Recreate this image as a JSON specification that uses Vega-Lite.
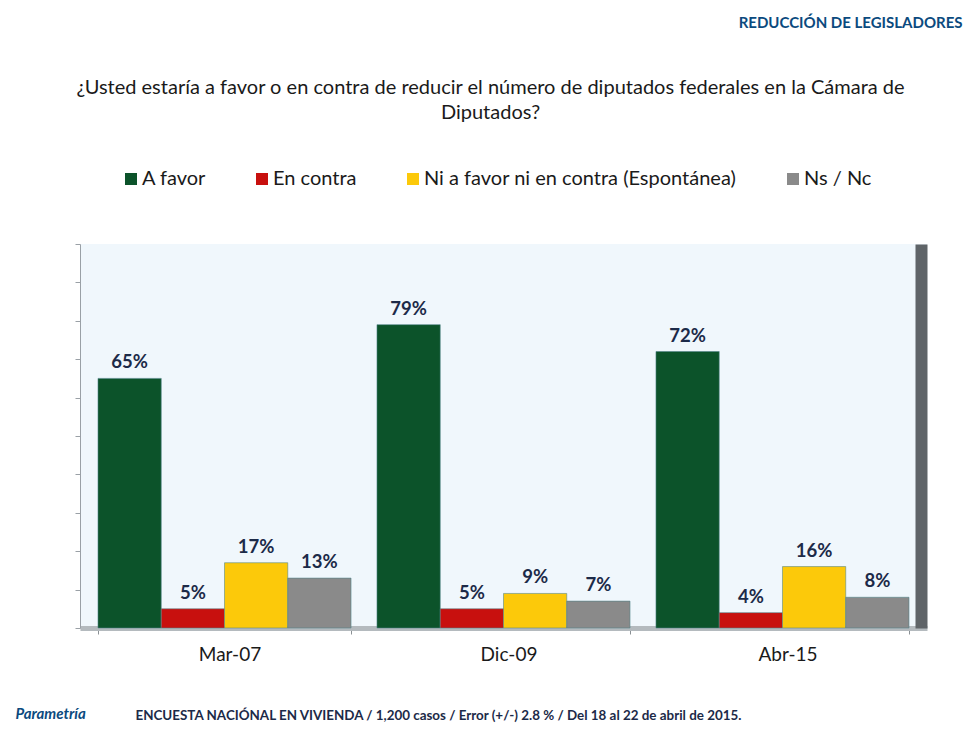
{
  "$schema": "https://vega.github.io/schema/vega-lite/v6.json",
  "autosize": {"type": "none"},
  "padding": {"left": 80, "top": 244, "right": 45, "bottom": 102},
  "width": 847,
  "height": 384,
  "background": "#ffffff",
  "title": {
    "text": ["¿Usted estaría a favor o en contra de reducir el número de diputados federales en la Cámara de", "Diputados?"],
    "anchor": "middle",
    "frame": "group",
    "dx": -13,
    "offset": 0,
    "dy": 108,
    "font": "Lato",
    "fontSize": 20,
    "fontWeight": "normal",
    "lineHeight": 25,
    "color": "#1a1a1a"
  },
  "data": {
    "values": [
      {"Fecha": "Mar-07", "Respuesta": "A favor", "Valor": 65},
      {"Fecha": "Mar-07", "Respuesta": "En contra", "Valor": 5},
      {"Fecha": "Mar-07", "Respuesta": "Ni a favor ni en contra (Espontánea)", "Valor": 17},
      {"Fecha": "Mar-07", "Respuesta": "Ns / Nc", "Valor": 13},
      {"Fecha": "Dic-09", "Respuesta": "A favor", "Valor": 79},
      {"Fecha": "Dic-09", "Respuesta": "En contra", "Valor": 5},
      {"Fecha": "Dic-09", "Respuesta": "Ni a favor ni en contra (Espontánea)", "Valor": 9},
      {"Fecha": "Dic-09", "Respuesta": "Ns / Nc", "Valor": 7},
      {"Fecha": "Abr-15", "Respuesta": "A favor", "Valor": 72},
      {"Fecha": "Abr-15", "Respuesta": "En contra", "Valor": 4},
      {"Fecha": "Abr-15", "Respuesta": "Ni a favor ni en contra (Espontánea)", "Valor": 16},
      {"Fecha": "Abr-15", "Respuesta": "Ns / Nc", "Valor": 8}
    ]
  },
  "encoding": {
    "x": {
      "field": "Fecha",
      "type": "nominal",
      "sort": ["Mar-07", "Dic-09", "Abr-15"],
      "scale": {"paddingInner": 0.093, "paddingOuter": 0.0645},
      "axis": {
        "title": "ENCUESTA  NACIÓNAL EN VIVIENDA  / 1,200 casos / Error (+/-) 2.8 % / Del 18 al 22 de abril de 2015.",
        "titleAnchor": "start",
        "titleAlign": "left",
        "titleBaseline": "middle",
        "titleX": 55,
        "titleY": 87,
        "titleFont": "Lato",
        "titleFontSize": 13.4,
        "titleFontWeight": "bold",
        "titleColor": "#1c2a48",
        "labelAngle": 0,
        "labelFont": "Lato",
        "labelFontSize": 19,
        "labelColor": "#1a1a1a",
        "labelPadding": 11,
        "labelOffset": 5,
        "domainColor": "#b4babe",
        "domainWidth": 5,
        "tickColor": "#8a9094",
        "tickSize": 6,
        "tickBand": "extent",
        "grid": false
      }
    },
    "xOffset": {
      "field": "Respuesta",
      "type": "nominal",
      "sort": ["A favor", "En contra", "Ni a favor ni en contra (Espontánea)", "Ns / Nc"],
      "scale": {"paddingInner": 0, "paddingOuter": 0}
    },
    "y": {
      "field": "Valor",
      "type": "quantitative",
      "scale": {"domain": [0, 100], "nice": false}
    }
  },
  "layer": [
    {
      "mark": {"type": "bar", "stroke": "#4f8389", "strokeWidth": 0.8, "strokeOpacity": 0.7},
      "encoding": {
        "y": {
          "field": "Valor",
          "type": "quantitative",
          "scale": {"domain": [0, 100], "nice": false},
          "axis": {
            "orient": "left",
            "values": [0, 10, 20, 30, 40, 50, 60, 70, 80, 90, 100],
            "labels": false,
            "grid": false,
            "domainColor": "#9aa0a6",
            "tickColor": "#9aa0a6",
            "tickSize": 5,
            "title": "REDUCCIÓN  DE LEGISLADORES",
            "titleAngle": 0,
            "titleAlign": "right",
            "titleBaseline": "middle",
            "titleX": 882,
            "titleY": -222,
            "titleFont": "Lato",
            "titleFontSize": 15,
            "titleFontWeight": "bold",
            "titleColor": "#0b4a7e"
          }
        },
        "color": {
          "field": "Respuesta",
          "type": "nominal",
          "sort": ["A favor", "En contra", "Ni a favor ni en contra (Espontánea)", "Ns / Nc"],
          "scale": {
            "domain": ["A favor", "En contra", "Ni a favor ni en contra (Espontánea)", "Ns / Nc"],
            "range": ["#0c532a", "#c8100e", "#fcc90a", "#8a8a8a"]
          },
          "legend": {
            "title": null,
            "orient": "none",
            "direction": "horizontal",
            "legendX": 41,
            "legendY": -75,
            "symbolType": "square",
            "symbolSize": 144,
            "symbolStrokeWidth": 0,
            "labelFont": "Lato",
            "labelFontSize": 20,
            "labelColor": "#1a1a1a",
            "labelOffset": 1,
            "columnPadding": 46,
            "labelLimit": 400
          }
        }
      }
    },
    {
      "mark": {"type": "text", "baseline": "bottom", "dy": -6, "font": "Lato", "fontSize": 18.5, "fontWeight": "bold", "color": "#1c2a48", "text": {"expr": "datum.Valor + '%'"}},
      "encoding": {
        "y": {
          "field": "Valor",
          "type": "quantitative",
          "scale": {"domain": [0, 100], "nice": false},
          "axis": {
            "orient": "right",
            "labels": false,
            "ticks": false,
            "grid": false,
            "domainColor": "#5f6468",
            "domainWidth": 12,
            "offset": -6,
            "title": "Parametría",
            "titleAngle": 0,
            "titleAlign": "left",
            "titleBaseline": "middle",
            "titleX": -906,
            "titleY": 469,
            "titleFont": "Lato",
            "titleFontSize": 15,
            "titleFontWeight": "bold",
            "titleFontStyle": "italic",
            "titleColor": "#0b4a7e"
          }
        },
        "detail": {"field": "Respuesta"}
      }
    }
  ],
  "resolve": {"axis": {"y": "independent"}},
  "config": {
    "view": {"fill": "#f0f7fc", "stroke": null}
  }
}
